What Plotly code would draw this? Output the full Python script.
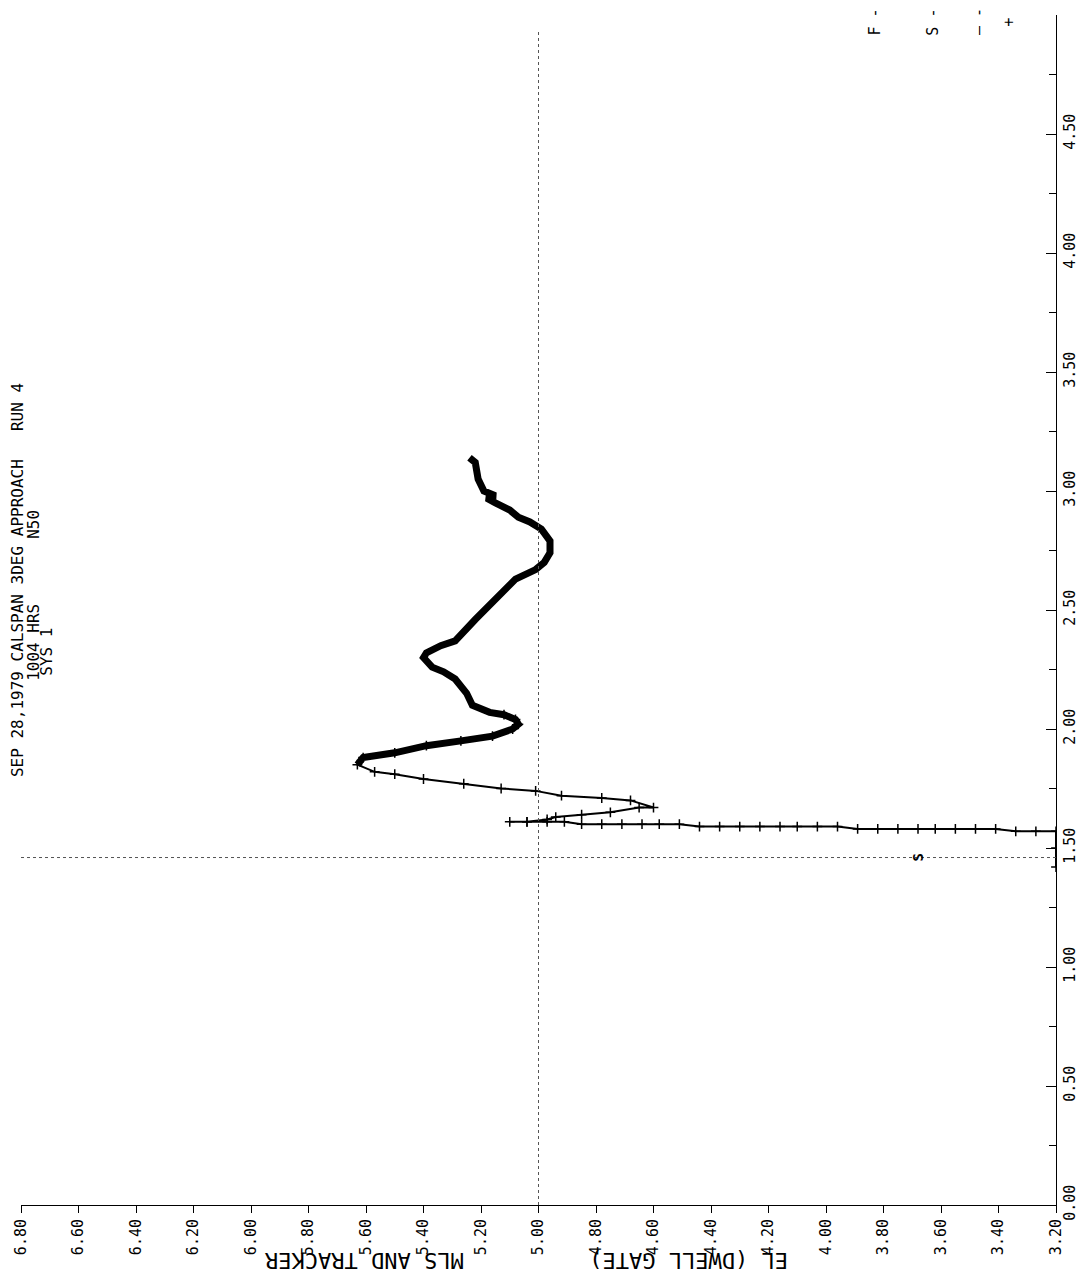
import plotly.graph_objects as go

# ---- data (EL in degrees along bottom axis, range along right axis) ----
el_ticks = [6.80, 6.60, 6.40, 6.20, 6.00, 5.80, 5.60, 5.40, 5.20, 5.00,
            4.80, 4.60, 4.40, 4.20, 4.00, 3.80, 3.60, 3.40, 3.20]
range_ticks = [0.00, 0.50, 1.00, 1.50, 2.00, 2.50, 3.00, 3.50, 4.00, 4.50, 5.00]
range_minor = [0.25, 0.75, 1.25, 1.75, 2.25, 2.75, 3.25, 3.75, 4.25, 4.75]

# dwell-gate (tracker) samples, lower transient part
tracker_el = [3.20, 3.20, 3.20, 3.27, 3.34, 3.41, 3.48, 3.55, 3.62, 3.68, 3.75,
              3.82, 3.89, 3.96, 4.03, 4.10, 4.16, 4.23, 4.30, 4.37, 4.44, 4.51,
              4.58, 4.64, 4.71, 4.78, 4.85, 4.91, 4.97, 5.04, 5.10, 5.04, 4.97,
              4.94, 4.85, 4.75, 4.65, 4.60, 4.68, 4.78, 4.92, 5.01, 5.13, 5.26,
              5.40, 5.50, 5.57, 5.63, 5.61, 5.50, 5.39, 5.27, 5.16, 5.09, 5.07,
              5.08, 5.12]
tracker_r = [1.42, 1.50, 1.57, 1.57, 1.57, 1.58, 1.58, 1.58, 1.58, 1.58, 1.58,
             1.58, 1.58, 1.59, 1.59, 1.59, 1.59, 1.59, 1.59, 1.59, 1.59, 1.60,
             1.60, 1.60, 1.60, 1.60, 1.60, 1.61, 1.61, 1.61, 1.61, 1.61, 1.62,
             1.63, 1.64, 1.65, 1.67, 1.67, 1.70, 1.71, 1.72, 1.74, 1.75, 1.77,
             1.79, 1.81, 1.82, 1.85, 1.88, 1.90, 1.93, 1.95, 1.97, 2.00, 2.02,
             2.04, 2.06]

# MLS trace (heavy line)
mls_el = [5.63, 5.61, 5.50, 5.39, 5.27, 5.16, 5.09, 5.07, 5.08, 5.12, 5.17,
          5.23, 5.25, 5.29, 5.33, 5.37, 5.40, 5.39, 5.34, 5.29, 5.22, 5.13,
          5.08, 5.01, 4.98, 4.96, 4.96, 4.99, 5.03, 5.07, 5.10, 5.15, 5.18,
          5.15, 5.19, 5.21, 5.22, 5.22, 5.24]
mls_r = [1.85, 1.88, 1.90, 1.93, 1.95, 1.97, 2.00, 2.02, 2.04, 2.06, 2.07,
         2.10, 2.15, 2.21, 2.24, 2.26, 2.30, 2.32, 2.35, 2.37, 2.46, 2.57,
         2.63, 2.67, 2.70, 2.74, 2.79, 2.84, 2.87, 2.89, 2.92, 2.95, 2.97,
         2.98, 3.00, 3.05, 3.10, 3.12, 3.14]

ref_el = 5.00       # vertical dotted reference
ref_r = 1.46        # horizontal dotted reference (S)
s_el = 3.68

title_parts = ["SEP 28,1979 CALSPAN 3DEG APPROACH", "RUN 4", "1004 HRS", "N50", "SYS 1"]
axis_titles = ["MLS AND TRACKER", "EL (DWELL GATE)"]
legend_marks = ["F -", "S -", "\u2014 -", "+"]

# ---- layout geometry ----
W, H = 1091, 1276
L, R_, T, B = 12, 30, 15, 71
PW, PH = W - L - R_, H - T - B


def px(x, y):
    return (x - L) / PW, (H - B - y) / PH


MONO = "DejaVu Sans Mono"

fig = go.Figure()

fig.add_trace(go.Scatter(
    x=tracker_el, y=tracker_r, mode="lines+markers",
    line=dict(color="black", width=2),
    marker=dict(symbol="cross-thin", size=7, line=dict(color="black", width=1.5)),
    showlegend=False))

fig.add_trace(go.Scatter(
    x=mls_el, y=mls_r, mode="lines",
    line=dict(color="black", width=7), showlegend=False))

# reference lines
fig.add_shape(type="line", x0=ref_el, x1=ref_el, y0=0, y1=4.94,
              line=dict(color="#555", width=1, dash="dot"))
fig.add_shape(type="line", x0=6.8, x1=3.2, y0=ref_r, y1=ref_r,
              line=dict(color="#555", width=1, dash="dot"))

fig.add_annotation(x=s_el, y=ref_r, text="<b>S</b>", showarrow=False, textangle=-90,
                   xanchor="center", yanchor="middle",
                   font=dict(family=MONO, size=14, color="black"))

# title (rotated)
tpos = [(8, 618), (8, 407), (24, 642), (24, 524), (37, 652)]
for txt, (xx, yy) in zip(title_parts, tpos):
    ax, ay = px(xx, yy)
    fig.add_annotation(x=ax, y=ay, xref="paper", yref="paper", text=txt,
                       showarrow=False, textangle=-90,
                       xanchor="center", yanchor="middle",
                       font=dict(family=MONO, size=16, color="black"))

# axis titles (upside down in the scan)
for txt, xx in zip(axis_titles, [360, 688]):
    ax, ay = px(xx, 1261)
    fig.add_annotation(x=ax, y=ay, xref="paper", yref="paper", text=txt,
                       showarrow=False, textangle=180,
                       xanchor="center", yanchor="middle",
                       font=dict(family=MONO, size=22, color="black"))

# legend symbols top right
for txt, xx in zip(legend_marks, [878, 936, 983, 1013]):
    ax, ay = px(xx, 22)
    fig.add_annotation(x=ax, y=ay, xref="paper", yref="paper", text=txt,
                       showarrow=False, textangle=-90,
                       xanchor="center", yanchor="middle",
                       font=dict(family=MONO, size=15, color="black"))

fig.update_layout(
    width=W, height=H, margin=dict(l=L, r=R_, t=T, b=B),
    paper_bgcolor="white", plot_bgcolor="white",
    font=dict(family=MONO, color="black"),
    xaxis=dict(range=[6.8, 3.2], tickvals=el_ticks,
               ticktext=[f"{v:.2f}" for v in el_ticks], tickangle=-90,
               tickfont=dict(size=15), ticks="outside", ticklen=7,
               tickcolor="black",
               showline=True, linecolor="black", linewidth=1,
               showgrid=False, zeroline=False),
    yaxis=dict(range=[0, 5], side="right", tickvals=range_ticks,
               ticktext=[f"{v:.2f}" for v in range_ticks], tickangle=-90,
               tickfont=dict(size=15), ticks="inside", ticklen=10,
               tickcolor="black",
               minor=dict(tickvals=range_minor,
                          ticks="inside", ticklen=7, tickcolor="black"),
               showline=True, linecolor="black", linewidth=1,
               showgrid=False, zeroline=False),
)

fig.write_html("out.html")
